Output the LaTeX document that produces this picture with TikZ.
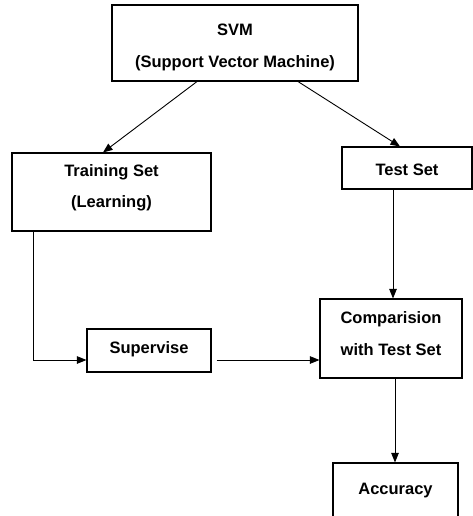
\documentclass[tikz,border=0pt]{standalone}
\usepackage{fontspec}
\setmainfont{Liberation Sans}
\usetikzlibrary{arrows.meta,calc}
\begin{document}
\begin{tikzpicture}[x=1pt,y=-1pt,
  box/.style={draw=black, line width=1.1pt, rectangle, inner sep=0pt},
  lbl/.style={inner sep=0pt, align=center,
    font=\fontsize{16.5}{31.5}\selectfont\bfseries},
  link/.style={draw=black, line width=0.9pt,
    -{Triangle[length=9.5pt,width=7.5pt]}}]
  \useasboundingbox (0,0) rectangle (473,516);
  \clip (0,0) rectangle (473,516);

  % boxes
  \node[box, minimum width=246pt, minimum height=76pt] (svm) at (235,43) {};
  \node[box, minimum width=199pt, minimum height=78pt] (train) at (111.5,192) {};
  \node[box, minimum width=130pt, minimum height=42pt] (test) at (407,168) {};
  \node[box, minimum width=124pt, minimum height=43pt] (super) at (149,350.5) {};
  \node[box, minimum width=142pt, minimum height=79pt] (comp) at (391,338.5) {};
  \node[box, minimum width=125pt, minimum height=56pt] (acc) at (395.5,491) {};

  % box texts
  \node[lbl] (svmtxt) at ([yshift=-4.5pt]svm.center) {SVM\\(Support Vector Machine)};
  \node[lbl] (traintxt) at ([yshift=4pt]train.center) {Training Set\\(Learning)};
  \node[lbl] (testtxt) at ([yshift=-1.5pt]test.center) {Test Set};
  \node[lbl] (supertxt) at ([yshift=1pt]super.center) {Supervise};
  \node[lbl] (comptxt) at ([yshift=5pt]comp.center) {Comparision\\with Test Set};
  \node[lbl] (acctxt) at (acc.center) {Accuracy};

  % connectors
  \draw[link] ([xshift=-38pt]svm.south) -- ([xshift=-8.5pt]train.north);
  \draw[link] ([xshift=63pt]svm.south) -- ([xshift=-7pt]test.north);
  \draw[link] ([xshift=22pt]train.south west) |- ([yshift=-9.5pt]super.west);
  \draw[link] ([xshift=5pt,yshift=-9.5pt]super.east) -- ([yshift=-21.5pt]comp.west);
  \draw[link] ([xshift=-14pt]test.south) -- ([xshift=2pt]comp.north);
  \draw[link] ([xshift=4pt]comp.south) -- ([xshift=-0.5pt]acc.north);
\end{tikzpicture}
\end{document}
